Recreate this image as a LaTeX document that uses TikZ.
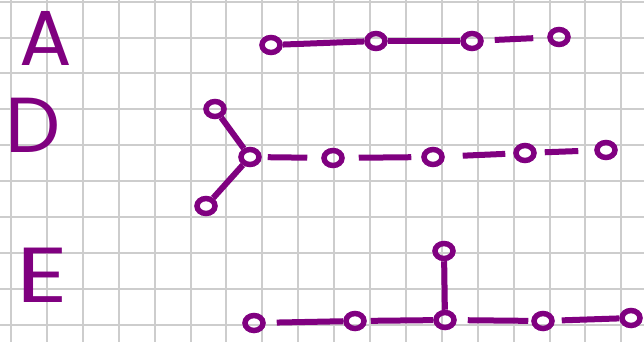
\documentclass[tikz,border=0pt]{standalone}
\usepackage{fontspec}
\setmainfont{Poppins}
\usetikzlibrary{shapes.geometric}
\definecolor{ink}{RGB}{128,0,128}
\definecolor{gridc}{RGB}{205,205,205}
\tikzset{
  nd/.style={ellipse, draw=ink, line width=5.5pt, inner sep=0pt, minimum width=18pt, minimum height=15pt},
  ed/.style={draw=ink, line width=6pt},
  letter/.style={text=ink, inner sep=0pt, font=\fontsize{78}{78}\selectfont}
}
\begin{document}
\begin{tikzpicture}[x=1pt,y=1pt]
\useasboundingbox (0,0) rectangle (644,-342);
\fill[white] (0,0) rectangle (644,-342);
% grid
\foreach \k in {0,...,17} {\draw[gridc, line width=2pt] ({11+35.9*\k},0) -- ({11+35.9*\k},-342);}
\foreach \k in {0,...,9} {\draw[gridc, line width=2pt] (0,{-1.7-35.9*\k}) -- (644,{-1.7-35.9*\k});}
% letters
\node[letter] (la) at (46,-38) {A};
\node[letter] (ld) at (33,-125) {D};
\node[letter, xscale=1.3] (le) at (43,-275) {E};
% A row
\node[nd] (a1) at (271,-45) {};
\node[nd] (a2) at (376,-41) {};
\node[nd] (a3) at (472,-41) {};
\node[nd] (a4) at (559,-37) {};
\draw[ed] (a1) -- (a2);
\draw[ed] (a2) -- (a3);
\draw[ed, shorten <=11pt, shorten >=14pt] (a3) -- (a4);
% D row
\node[nd] (d0) at (250,-157) {};
\node[nd] (d1) at (215,-109) {};
\node[nd] (d2) at (206,-206) {};
\node[nd] (d3) at (333,-158) {};
\node[nd] (d4) at (433,-157) {};
\node[nd] (d5) at (525,-153) {};
\node[nd] (d6) at (606,-150) {};
\draw[ed] (d1) -- (d0);
\draw[ed] (d2) -- (d0);
\draw[ed, shorten <=6pt, shorten >=14pt] (d0) -- (d3);
\draw[ed, shorten <=14pt, shorten >=10pt] (d3) -- (d4);
\draw[ed, shorten <=18pt, shorten >=8pt] (d4) -- (d5);
\draw[ed, shorten <=8pt, shorten >=16pt] (d5) -- (d6);
% E row
\node[nd] (e1) at (254,-323) {};
\node[nd] (e2) at (355,-321) {};
\node[nd] (e3) at (445,-320) {};
\node[nd] (e4) at (444,-251) {};
\node[nd] (e5) at (543,-321) {};
\node[nd] (e6) at (631,-318) {};
\draw[ed] (e4) -- (e3);
\draw[ed, shorten <=11pt] (e1) -- (e2);
\draw[ed, shorten <=4pt] (e2) -- (e3);
\draw[ed, shorten <=11pt, shorten >=3pt] (e3) -- (e5);
\draw[ed, shorten <=7pt] (e5) -- (e6);
\end{tikzpicture}
\end{document}
